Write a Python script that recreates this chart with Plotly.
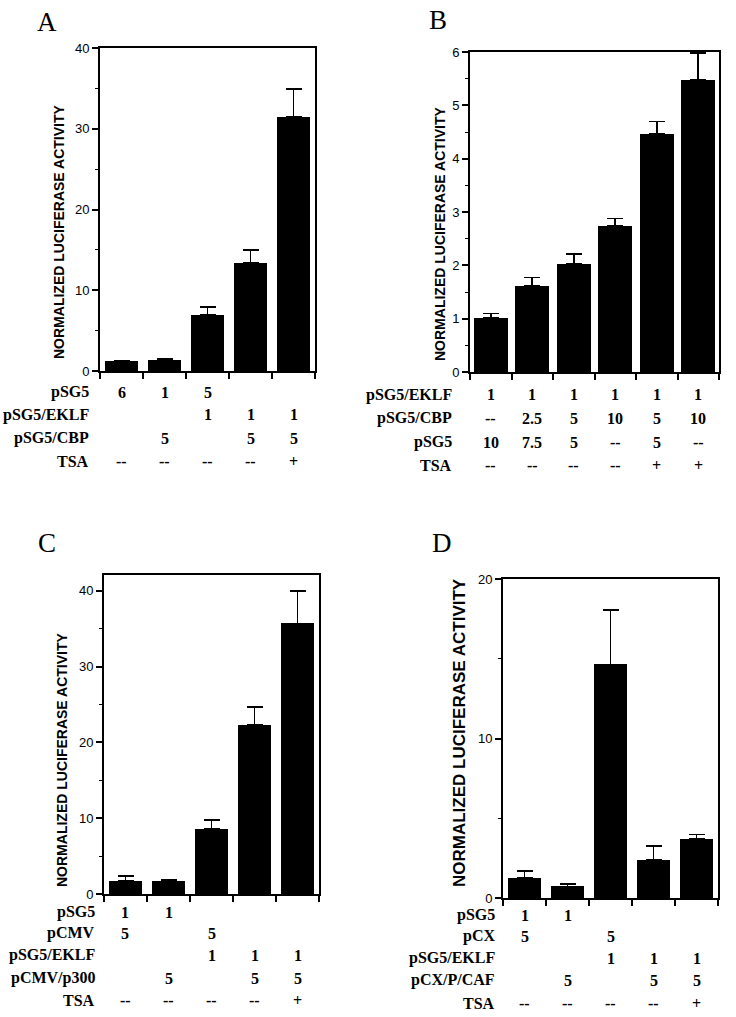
import plotly.graph_objects as go

W, H = 736, 1017

# ---------------- data ----------------
a_values = [1.2, 1.4, 6.9, 13.4, 31.5]
a_errors = [0.1, 0.1, 1.0, 1.6, 3.4]
a_rows = ["pSG5", "pSG5/EKLF", "pSG5/CBP", "TSA"]
a_table = [
    ["6", "1", "5", "", ""],
    ["", "", "1", "1", "1"],
    ["", "5", "", "5", "5"],
    ["--", "--", "--", "--", "+"],
]

b_values = [1.01, 1.62, 2.02, 2.74, 4.47, 5.47]
b_errors = [0.09, 0.15, 0.19, 0.14, 0.23, 0.51]
b_rows = ["pSG5/EKLF", "pSG5/CBP", "pSG5", "TSA"]
b_table = [
    ["1", "1", "1", "1", "1", "1"],
    ["--", "2.5", "5", "10", "5", "10"],
    ["10", "7.5", "5", "--", "5", "--"],
    ["--", "--", "--", "--", "+", "+"],
]

c_values = [1.7, 1.7, 8.6, 22.3, 35.7]
c_errors = [0.7, 0.2, 1.2, 2.4, 4.3]
c_rows = ["pSG5", "pCMV", "pSG5/EKLF", "pCMV/p300", "TSA"]
c_table = [
    ["1", "1", "", "", ""],
    ["5", "", "5", "", ""],
    ["", "", "1", "1", "1"],
    ["", "5", "", "5", "5"],
    ["--", "--", "--", "--", "+"],
]

d_values = [1.28, 0.73, 14.64, 2.41, 3.72]
d_errors = [0.41, 0.13, 3.41, 0.85, 0.25]
d_rows = ["pSG5", "pCX", "pSG5/EKLF", "pCX/P/CAF", "TSA"]
d_table = [
    ["1", "1", "", "", ""],
    ["5", "", "5", "", ""],
    ["", "", "1", "1", "1"],
    ["", "5", "", "5", "5"],
    ["--", "--", "--", "--", "+"],
]

y_title = "NORMALIZED LUCIFERASE ACTIVITY"

# ---------------- layout in pixels ----------------
panels = [
    dict(letter="A", vals=a_values, errs=a_errors, rows=a_rows, table=a_table,
         x0=100, x1=315, ytop=48, ybot=371, yr=[0, 40], dtick=10, minor=5,
         bw=0.775, row_y=[392, 415, 438, 462], lab_x=91,
         letter_xy=(47, 22), title_xy=(59, 232), title_size=14),
    dict(letter="B", vals=b_values, errs=b_errors, rows=b_rows, table=b_table,
         x0=470, x1=719, ytop=52, ybot=372, yr=[0, 6], dtick=1, minor=0.5,
         bw=0.83, row_y=[395, 418, 442, 465], lab_x=454,
         letter_xy=(438, 20), title_xy=(440, 234), title_size=14),
    dict(letter="C", vals=c_values, errs=c_errors, rows=c_rows, table=c_table,
         x0=104, x1=319, ytop=575, ybot=894, yr=[0, 42.1], dtick=10, minor=5,
         bw=0.775, row_y=[912, 933, 955, 978, 1000], lab_x=97,
         letter_xy=(47, 543), title_xy=(62, 760), title_size=14),
    dict(letter="D", vals=d_values, errs=d_errors, rows=d_rows, table=d_table,
         x0=503, x1=718, ytop=579, ybot=898, yr=[0, 20], dtick=10, minor=5,
         bw=0.775, row_y=[915, 936, 958, 980, 1003], lab_x=497,
         letter_xy=(442, 543), title_xy=(459, 733), title_size=17),
]

serif = "Liberation Serif, Times New Roman, serif"
sans = "Liberation Sans, Arial, Helvetica, sans-serif"

fig = go.Figure()
annotations = []
layout_axes = {}

for i, p in enumerate(panels):
    k = "" if i == 0 else str(i + 1)
    n = len(p["vals"])
    xs = list(range(n))
    fig.add_trace(go.Bar(
        x=xs, y=p["vals"], width=p["bw"],
        marker=dict(color="black", line=dict(width=0)),
        error_y=dict(type="data", array=p["errs"], arrayminus=[0] * n,
                     symmetric=False, color="black", thickness=1.6, width=8),
        xaxis="x" + k, yaxis="y" + k, showlegend=False,
    ))
    layout_axes["xaxis" + k] = dict(
        domain=[p["x0"] / W, p["x1"] / W], anchor="y" + k, automargin=False,
        range=[-0.5, n - 0.5], tickvals=[j - 0.5 for j in range(n + 1)],
        ticktext=[""] * (n + 1), ticks="outside", ticklen=6, tickwidth=1.5,
        tickcolor="black", showline=True, linecolor="black", linewidth=1.8,
        mirror=True, showgrid=False, zeroline=False, fixedrange=True,
    )
    layout_axes["yaxis" + k] = dict(
        domain=[1 - p["ybot"] / H, 1 - p["ytop"] / H], anchor="x" + k,
        automargin=False,
        range=p["yr"], dtick=p["dtick"], tick0=0, ticks="outside", ticklen=6,
        tickwidth=1.5, tickcolor="black", showline=True, linecolor="black",
        linewidth=1.8, mirror=True, showgrid=False, zeroline=False,
        tickfont=dict(family=sans, size=13, color="black"),
        minor=dict(dtick=p["minor"], ticks="outside", ticklen=3, tickwidth=1.2,
                   tickcolor="black", showgrid=False),
        fixedrange=True,
    )
    # panel letter
    annotations.append(dict(
        text=p["letter"], x=p["letter_xy"][0] / W, y=1 - p["letter_xy"][1] / H,
        xref="paper", yref="paper", showarrow=False, xanchor="center",
        yanchor="middle", font=dict(family=serif, size=27, color="black"),
    ))
    # y-axis title
    annotations.append(dict(
        text="<b>" + y_title + "</b>", x=p["title_xy"][0] / W,
        y=1 - p["title_xy"][1] / H, xref="paper", yref="paper",
        showarrow=False, textangle=-90, xanchor="center", yanchor="middle",
        font=dict(family=sans, size=p["title_size"], color="black"),
    ))
    # table rows
    for r, (lab, row_vals) in enumerate(zip(p["rows"], p["table"])):
        yy = 1 - p["row_y"][r] / H
        annotations.append(dict(
            text="<b>" + lab + "</b>", x=p["lab_x"] / W, y=yy, xref="paper",
            yref="paper", showarrow=False, xanchor="right", yanchor="middle",
            font=dict(family=serif, size=16, color="black"),
        ))
        for j, v in enumerate(row_vals):
            if v == "":
                continue
            annotations.append(dict(
                text="<b>" + v + "</b>", x=j, y=yy, xref="x" + k, yref="paper",
                showarrow=False, xanchor="center", yanchor="middle",
                font=dict(family=serif, size=16, color="black"),
            ))

fig.update_layout(
    width=W, height=H, margin=dict(l=0, r=0, t=0, b=0, autoexpand=False),
    paper_bgcolor="white", plot_bgcolor="white",
    annotations=annotations, bargap=0, **layout_axes,
)

fig.write_html(
    "out.html",
    config={"displayModeBar": False},
    post_script="document.body.style.margin='0px';document.body.style.overflow='hidden';",
)
